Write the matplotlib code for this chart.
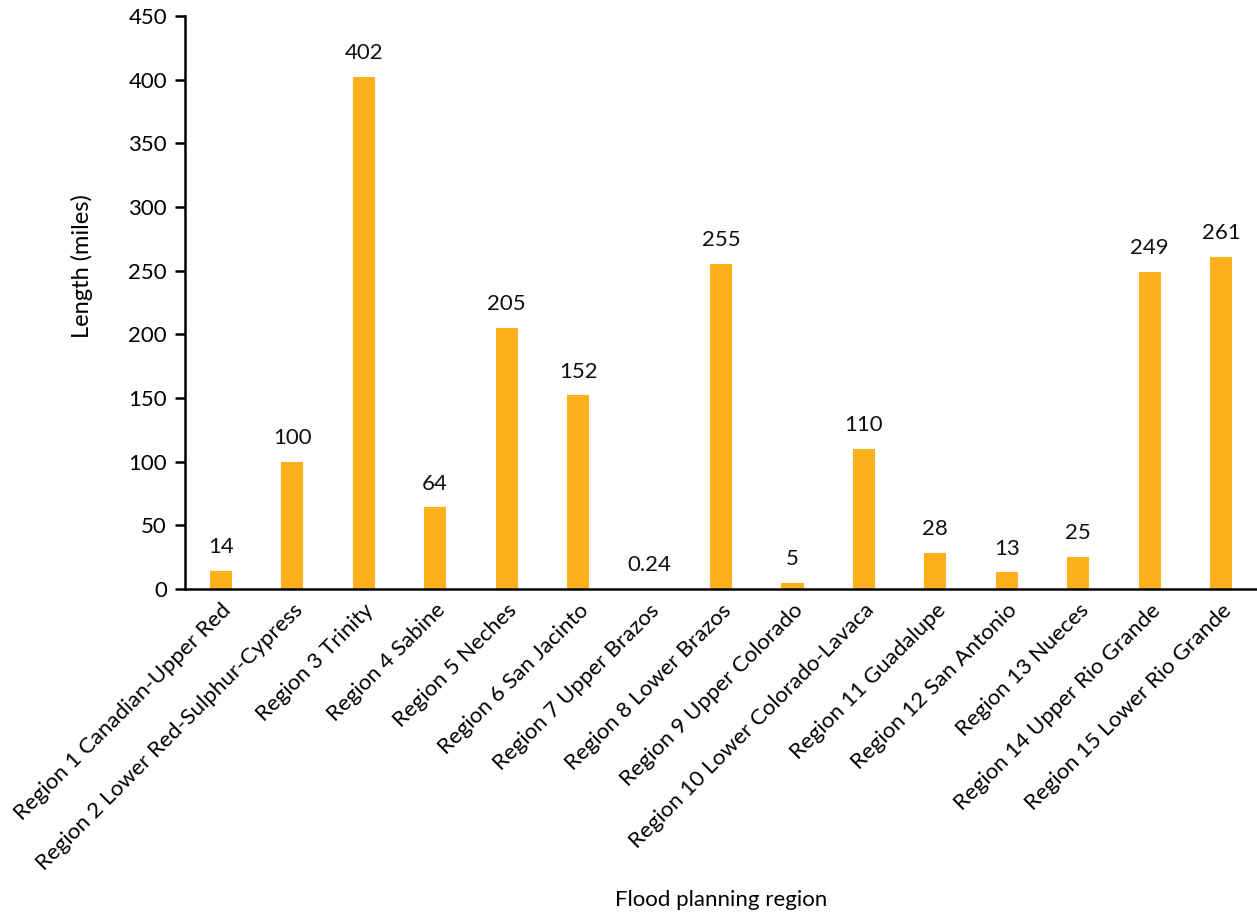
import matplotlib
matplotlib.use("Agg")
import matplotlib.pyplot as plt

regions = [
    "Region 1 Canadian-Upper Red",
    "Region 2 Lower Red-Sulphur-Cypress",
    "Region 3 Trinity",
    "Region 4 Sabine",
    "Region 5 Neches",
    "Region 6 San Jacinto",
    "Region 7 Upper Brazos",
    "Region 8 Lower Brazos",
    "Region 9 Upper Colorado",
    "Region 10 Lower Colorado-Lavaca",
    "Region 11 Guadalupe",
    "Region 12 San Antonio",
    "Region 13 Nueces",
    "Region 14 Upper Rio Grande",
    "Region 15 Lower Rio Grande",
]
lengths = [14, 100, 402, 64, 205, 152, 0.24, 255, 5, 110, 28, 13, 25, 249, 261]
value_labels = ["14", "100", "402", "64", "205", "152", "0.24", "255", "5",
                "110", "28", "13", "25", "249", "261"]
y_ticks = [0, 50, 100, 150, 200, 250, 300, 350, 400, 450]

plt.rcParams["font.family"] = ["Lato", "DejaVu Sans"]
FS = 16

fig = plt.figure(figsize=(12.57, 9.17), dpi=100)
ax = fig.add_axes([0.1472, 0.3577, 0.8528, 0.6249])

x = list(range(len(regions)))
bars = ax.bar(x, lengths, width=0.31, color="#FDB01B", zorder=2)

for bar, lab in zip(bars, value_labels):
    ax.annotate(lab, (bar.get_x() + bar.get_width() / 2, bar.get_height()),
                xytext=(0, 10), textcoords="offset points",
                ha="center", va="bottom", fontsize=FS, color="#111111")

ax.set_xlim(-0.5, len(regions) - 0.5)
ax.set_ylim(0, 450)
ax.set_yticks(y_ticks)
ax.set_xticks(x)
ax.set_xticklabels(regions, rotation=45, ha="right", rotation_mode="anchor",
                   fontsize=FS)
ax.tick_params(axis="x", length=0, pad=8)
ax.tick_params(axis="y", length=7, width=1.8, labelsize=FS, pad=6,
               direction="out")

for side in ("top", "right"):
    ax.spines[side].set_visible(False)
ax.spines["left"].set_linewidth(1.8)
ax.spines["bottom"].set_linewidth(1.8)

ax.set_ylabel("Length (miles)", fontsize=17)
ax.yaxis.set_label_coords(-0.086, 0.564)
ax.set_xlabel("Flood planning region", fontsize=FS)
ax.xaxis.set_label_coords(0.5, -0.525)

fig.savefig("out.png", dpi=100)
